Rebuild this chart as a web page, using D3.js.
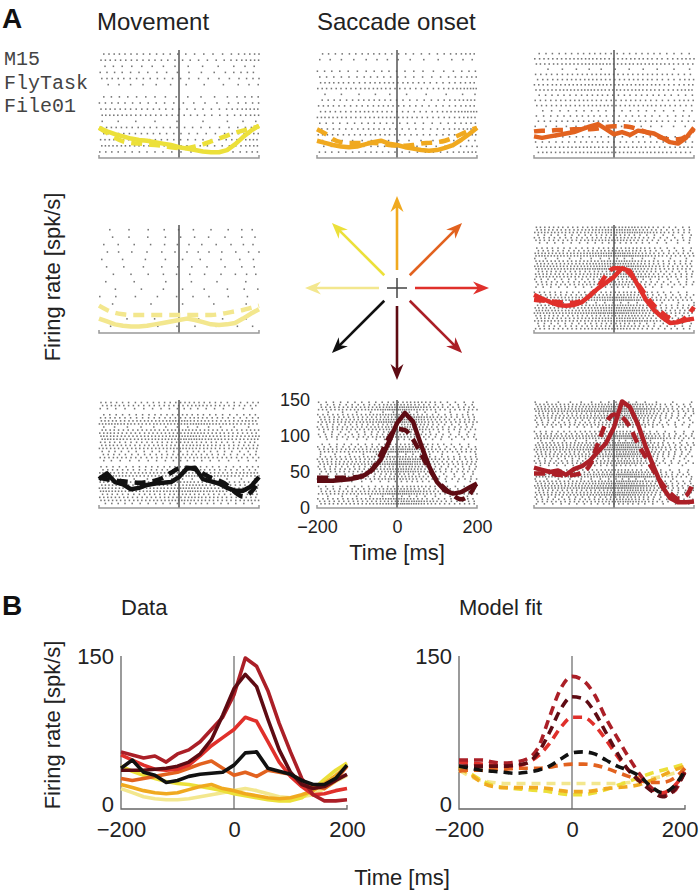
<!DOCTYPE html>
<html>
<head>
<meta charset="utf-8">
<script src="https://cdn.jsdelivr.net/npm/d3@7"></script>
<style>
body { margin: 0; background: #fff; }
text { font-family: "Liberation Sans", Arial, Helvetica, sans-serif; }
</style>
</head>
<body>
<script>
//time grid (ms from saccade onset)
var times = [-200,-180,-160,-140,-120,-100,-80,-60,-40,-20,0,20,40,60,80,100,120,140,160,180,200];

//directions, in the order of the panels
var dirNames = ["upleft", "up", "upright", "left", "right", "downleft", "down", "downright"];
var dirAngles = [135, 90, 45, 180, 0, -135, -90, -45];
var dirColors = ["#ece03a", "#f0a91f", "#e2621f", "#f3e78e", "#e0302b", "#111111", "#5e0b13", "#ab1f27"];
var panelCol = [0, 1, 2, 0, 2, 0, 1, 2];
var panelRow = [0, 0, 0, 1, 1, 2, 2, 2];

//measured firing rate (spk/s)
var dataUpLeft    = [42,37,33,30,27,25,24,22,20,18,15,13,11,9,8,8,11,19,29,38,45];
var dataUp        = [24,21,18,16,15,16,19,22,24,20,18,15,13,11,10,11,14,18,25,33,42];
var dataUpRight   = [30,28,30,32,34,36,40,44,47,40,33,36,32,38,36,34,28,22,20,28,42];
var dataLeft      = [20,16,12,10,9,9,10,12,14,16,18,20,18,15,12,11,12,14,20,27,33];
var dataRight     = [53,48,43,39,38,39,43,52,62,70,78,90,86,66,46,32,22,14,15,18,20];
var dataDownLeft  = [40,48,36,33,26,28,32,34,35,36,43,55,56,40,37,34,28,24,24,30,43];
var dataDown      = [38,38,38,39,40,42,46,54,68,92,118,132,120,88,58,36,24,20,22,28,34];
var dataDownRight = [56,53,50,52,46,54,58,66,78,90,112,148,140,116,84,56,30,14,8,8,9];

//model fit (spk/s)
var modelUpLeft    = [42,35,28,23,21,20,19,18,17,15,14,14,16,19,23,27,31,35,38,41,44];
var modelUp        = [40,34,26,22,21,21,21,21,20,18,17,17,18,20,21,22,24,28,33,38,42];
var modelUpRight   = [37,38,38,39,39,40,40,40,41,43,44,44,43,40,36,32,28,26,26,30,40];
var modelLeft      = [38,32,28,26,25,25,25,25,25,25,25,25,25,25,25,26,28,30,32,35,38];
var modelRight     = [46,45,44,43,42,42,45,52,64,80,90,90,82,68,52,38,28,20,16,22,36];
var modelDownLeft  = [42,40,38,37,36,35,36,38,42,49,55,56,54,48,42,38,32,22,16,22,38];
var modelDown      = [42,42,42,42,42,43,45,55,75,98,110,108,95,75,55,38,27,18,12,18,36];
var modelDownRight = [48,48,48,46,45,46,49,60,90,118,130,126,112,89,70,51,34,21,13,17,38];

var dataAll = [dataUpLeft, dataUp, dataUpRight, dataLeft, dataRight, dataDownLeft, dataDown, dataDownRight];
var modelAll = [modelUpLeft, modelUp, modelUpRight, modelLeft, modelRight, modelDownLeft, modelDown, modelDownRight];

//raster: trials per panel, spikes per trial, trial to trial variation
var rasterTrials = [17, 18, 20, 14, 40, 34, 42, 46];
var rasterSpikes = [24, 28, 32, 10, 42, 38, 38, 44];
var trialMod = [1.0, 0.7, 1.2, 0.9, 0.35, 1.1, 0.8, 1.3, 0.5, 1.0, 0.6, 1.15, 0.85, 0.0, 1.05, 0.75, 1.25];
var trialLag = [0, 14, -9, 22, -17, 6, -25, 11, -4, 19, -13, 27, -21, 3, 16, -7, 9];

//tick labels
var aYTicks = [0, 50, 100, 150];
var xTicks = [-200, 0, 200];
var bYTicks = [0, 150];

//layout
var colCenter = [179, 397, 614];
var rowTop = [50, 225, 400];
var panelW = 160, panelH = 108;

var svg = d3.select("body").append("svg")
	.attr("width", 699)
	.attr("height", 893);

//panel letters and headers
svg.append("text").attr("x", 2).attr("y", 28).text("A")
	.attr("font-size", 28).attr("font-weight", "bold").attr("fill", "#111");
svg.append("text").attr("x", 2).attr("y", 615).text("B")
	.attr("font-size", 28).attr("font-weight", "bold").attr("fill", "#111");
svg.append("text").attr("x", 97).attr("y", 30).text("Movement")
	.attr("font-size", 24).attr("fill", "#222");
svg.append("text").attr("x", 317).attr("y", 30).text("Saccade onset")
	.attr("font-size", 24).attr("fill", "#222");

var fileLines = ["M15", "FlyTask", "File01"];
svg.selectAll("text.file").data(fileLines).enter().append("text")
	.attr("class", "file")
	.attr("x", 4)
	.attr("y", function(d, i) { return 65 + i * 23.5; })
	.text(function(d) { return d; })
	.style("font-family", "'Courier New', 'Liberation Mono', monospace")
	.attr("font-size", 20)
	.attr("fill", "#444");

//y labels
function yLabel(cy, cx) {
	svg.append("text")
		.attr("transform", "translate(" + cx + "," + cy + ") rotate(-90)")
		.attr("text-anchor", "middle")
		.attr("font-size", 22)
		.attr("fill", "#222")
		.text("Firing rate [spk/s]");
}
yLabel(277, 60);
yLabel(725, 60);

//linear interpolation of a rate array
function rateAt(arr, t) {
	t = Math.max(-200, Math.min(200, t));
	var i = Math.min(Math.floor((t + 200) / 20), times.length - 2);
	var f = (t - times[i]) / 20;
	return arr[i] * (1 - f) + arr[i + 1] * f;
}

//spike times from rate (integrate and fire, deterministic)
function makeSpikes(arr, nTrials, perTrial, offset) {
	var mean = d3.mean(arr);
	var total = 0;
	for (var t = -200; t < 200; t++) total += (0.5 * mean + 0.5 * rateAt(arr, t)) * 0.001;
	var dens = perTrial / total;
	var out = [];
	for (var k = 0; k < nTrials; k++) {
		var j = (k * 5 + offset * 3) % trialMod.length;
		var g = trialMod[j];
		var lag = trialLag[(k + offset) % trialLag.length];
		var acc = (k * 0.618 + offset * 0.13) % 1;
		for (var t2 = -199; t2 <= 200; t2++) {
			acc += (0.5 * mean + 0.5 * rateAt(arr, t2 + lag)) * 0.001 * dens * g;
			if (acc >= 1) {
				acc -= 1;
				out.push({ trial: k, t: t2 });
			}
		}
	}
	return out;
}

//A panels
for (var p = 0; p < 8; p++) {
	var cx = colCenter[panelCol[p]];
	var pTop = rowTop[panelRow[p]];
	var pBottom = pTop + panelH;
	var x = d3.scaleLinear().domain([-200, 200]).range([cx - panelW / 2, cx + panelW / 2]);
	var y = d3.scaleLinear().domain([0, 150]).range([pBottom, pTop]);
	var g = svg.append("g");

	//raster
	var rows = d3.scaleBand().domain(d3.range(rasterTrials[p])).range([pTop + 1, pBottom - 3]);
	var spikes = makeSpikes(dataAll[p], rasterTrials[p], rasterSpikes[p], p);
	g.selectAll("rect.spk").data(spikes).enter().append("rect")
		.attr("x", function(d) { return x(d.t) - 0.75; })
		.attr("y", function(d) { return rows(d.trial) + rows.bandwidth() / 2 - 0.8; })
		.attr("width", 1.5)
		.attr("height", 1.6)
		.attr("fill", "#747474");

	//zero line and bottom axis
	g.append("line")
		.attr("x1", x(0)).attr("x2", x(0))
		.attr("y1", pTop).attr("y2", pBottom)
		.attr("stroke", "#555").attr("stroke-width", 1.5);
	g.append("path")
		.attr("d", "M" + x(-200) + "," + (pBottom - 3) + "V" + pBottom + "H" + x(200) + "V" + (pBottom - 3))
		.attr("fill", "none").attr("stroke", "#999").attr("stroke-width", 1.5);

	var line = d3.line()
		.x(function(d, i) { return x(times[i]); })
		.y(function(d) { return y(d); });
	var smooth = d3.line()
		.x(function(d, i) { return x(times[i]); })
		.y(function(d) { return y(d); })
		.curve(d3.curveMonotoneX);

	g.append("path").datum(dataAll[p])
		.attr("d", line)
		.attr("fill", "none")
		.attr("stroke", dirColors[p])
		.attr("stroke-width", 4.5)
		.attr("stroke-linejoin", "round");
	g.append("path").datum(modelAll[p])
		.attr("d", smooth)
		.attr("fill", "none")
		.attr("stroke", dirColors[p])
		.attr("stroke-width", 4.5)
		.attr("stroke-dasharray", "11,7");

	//axes with labels on the bottom-middle panel
	if (p == 6) {
		var ya = g.append("g")
			.attr("transform", "translate(" + x(-200) + ",0)")
			.call(d3.axisLeft(y).tickValues(aYTicks).tickSize(0).tickPadding(7));
		ya.select(".domain").remove();
		ya.selectAll("text").attr("font-size", 18).attr("fill", "#222")
			.style("font-family", "'Liberation Sans', Arial, sans-serif");
		var xa = g.append("g")
			.attr("transform", "translate(0," + pBottom + ")")
			.call(d3.axisBottom(x).tickValues(xTicks).tickSize(0).tickPadding(12));
		xa.select(".domain").remove();
		xa.selectAll("text").attr("font-size", 18).attr("fill", "#222")
			.style("font-family", "'Liberation Sans', Arial, sans-serif");
		svg.append("text")
			.attr("x", cx).attr("y", 560)
			.attr("text-anchor", "middle")
			.attr("font-size", 22).attr("fill", "#222")
			.text("Time [ms]");
	}
}

//direction arrows
var arrowCx = 397, arrowCy = 288;
var arrowR = d3.scaleLinear().domain([0, 1]).range([18, 92]);
var arrowG = svg.append("g");
dirAngles.forEach(function(a, i) {
	var ag = arrowG.append("g")
		.attr("transform", "translate(" + arrowCx + "," + arrowCy + ") rotate(" + (-a) + ")");
	var R = arrowR(1);
	ag.append("line")
		.attr("x1", arrowR(0)).attr("x2", R - 8)
		.attr("y1", 0).attr("y2", 0)
		.attr("stroke", dirColors[i]).attr("stroke-width", 2.6);
	ag.append("path")
		.attr("d", d3.line()([[R, 0], [R - 16, -6.5], [R - 11, 0], [R - 16, 6.5]]) + "Z")
		.attr("fill", dirColors[i]);
});
arrowG.append("path")
	.attr("d", "M" + (arrowCx - 10) + "," + arrowCy + "H" + (arrowCx + 10) + "M" + arrowCx + "," + (arrowCy - 10) + "V" + (arrowCy + 10))
	.attr("stroke", "#444").attr("stroke-width", 1.5);

//B panels
var bLeft = [121, 459];
var bW = 226;
var bTop = 656, bBottom = 809;
var bTitles = ["Data", "Model fit"];
var drawOrder = [3, 0, 1, 2, 4, 7, 6, 5];

for (var b = 0; b < 2; b++) {
	var bx = d3.scaleLinear().domain([-200, 200]).range([bLeft[b], bLeft[b] + bW]);
	var by = d3.scaleLinear().domain([0, 150]).range([bBottom, bTop]);
	var bg = svg.append("g");

	bg.append("text")
		.attr("x", bLeft[b]).attr("y", 615)
		.attr("font-size", 22).attr("fill", "#222")
		.text(bTitles[b]);

	//axes
	bg.append("path")
		.attr("d", "M" + bx(-200) + "," + bTop + "V" + bBottom + "H" + bx(200) + "V" + (bBottom - 4))
		.attr("fill", "none").attr("stroke", "#666").attr("stroke-width", 1.3);
	bg.append("line")
		.attr("x1", bx(0)).attr("x2", bx(0))
		.attr("y1", bTop).attr("y2", bBottom)
		.attr("stroke", "#666").attr("stroke-width", 1.2);

	var bya = bg.append("g")
		.attr("transform", "translate(" + bx(-200) + ",0)")
		.call(d3.axisLeft(by).tickValues(bYTicks).tickSize(0).tickPadding(7));
	bya.select(".domain").remove();
	bya.selectAll("text").attr("font-size", 22).attr("fill", "#222")
		.style("font-family", "'Liberation Sans', Arial, sans-serif");
	bya.selectAll(".tick").filter(function(d) { return d == 0; }).select("text").attr("dy", "0.12em");
	var bxa = bg.append("g")
		.attr("transform", "translate(0," + bBottom + ")")
		.call(d3.axisBottom(bx).tickValues(xTicks).tickSize(0).tickPadding(12));
	bxa.select(".domain").remove();
	bxa.selectAll("text").attr("font-size", 22).attr("fill", "#222")
		.style("font-family", "'Liberation Sans', Arial, sans-serif");
	if (b == 1) {
		bxa.selectAll(".tick").filter(function(d) { return d == 200; }).select("text")
			.attr("text-anchor", "end").attr("x", 13);
	}

	var bLine = d3.line()
		.x(function(d, i) { return bx(times[i]); })
		.y(function(d) { return by(d); });
	if (b == 1) bLine.curve(d3.curveMonotoneX);

	drawOrder.forEach(function(p) {
		var path = bg.append("path")
			.datum(b == 0 ? dataAll[p] : modelAll[p])
			.attr("d", bLine)
			.attr("fill", "none")
			.attr("stroke", dirColors[p])
			.attr("stroke-width", 3.6)
			.attr("stroke-linejoin", "round");
		if (b == 1) path.attr("stroke-dasharray", "9,6");
	});
}

svg.append("text")
	.attr("x", 402).attr("y", 885)
	.attr("text-anchor", "middle")
	.attr("font-size", 22).attr("fill", "#222")
	.text("Time [ms]");
</script>
</body>
</html>
